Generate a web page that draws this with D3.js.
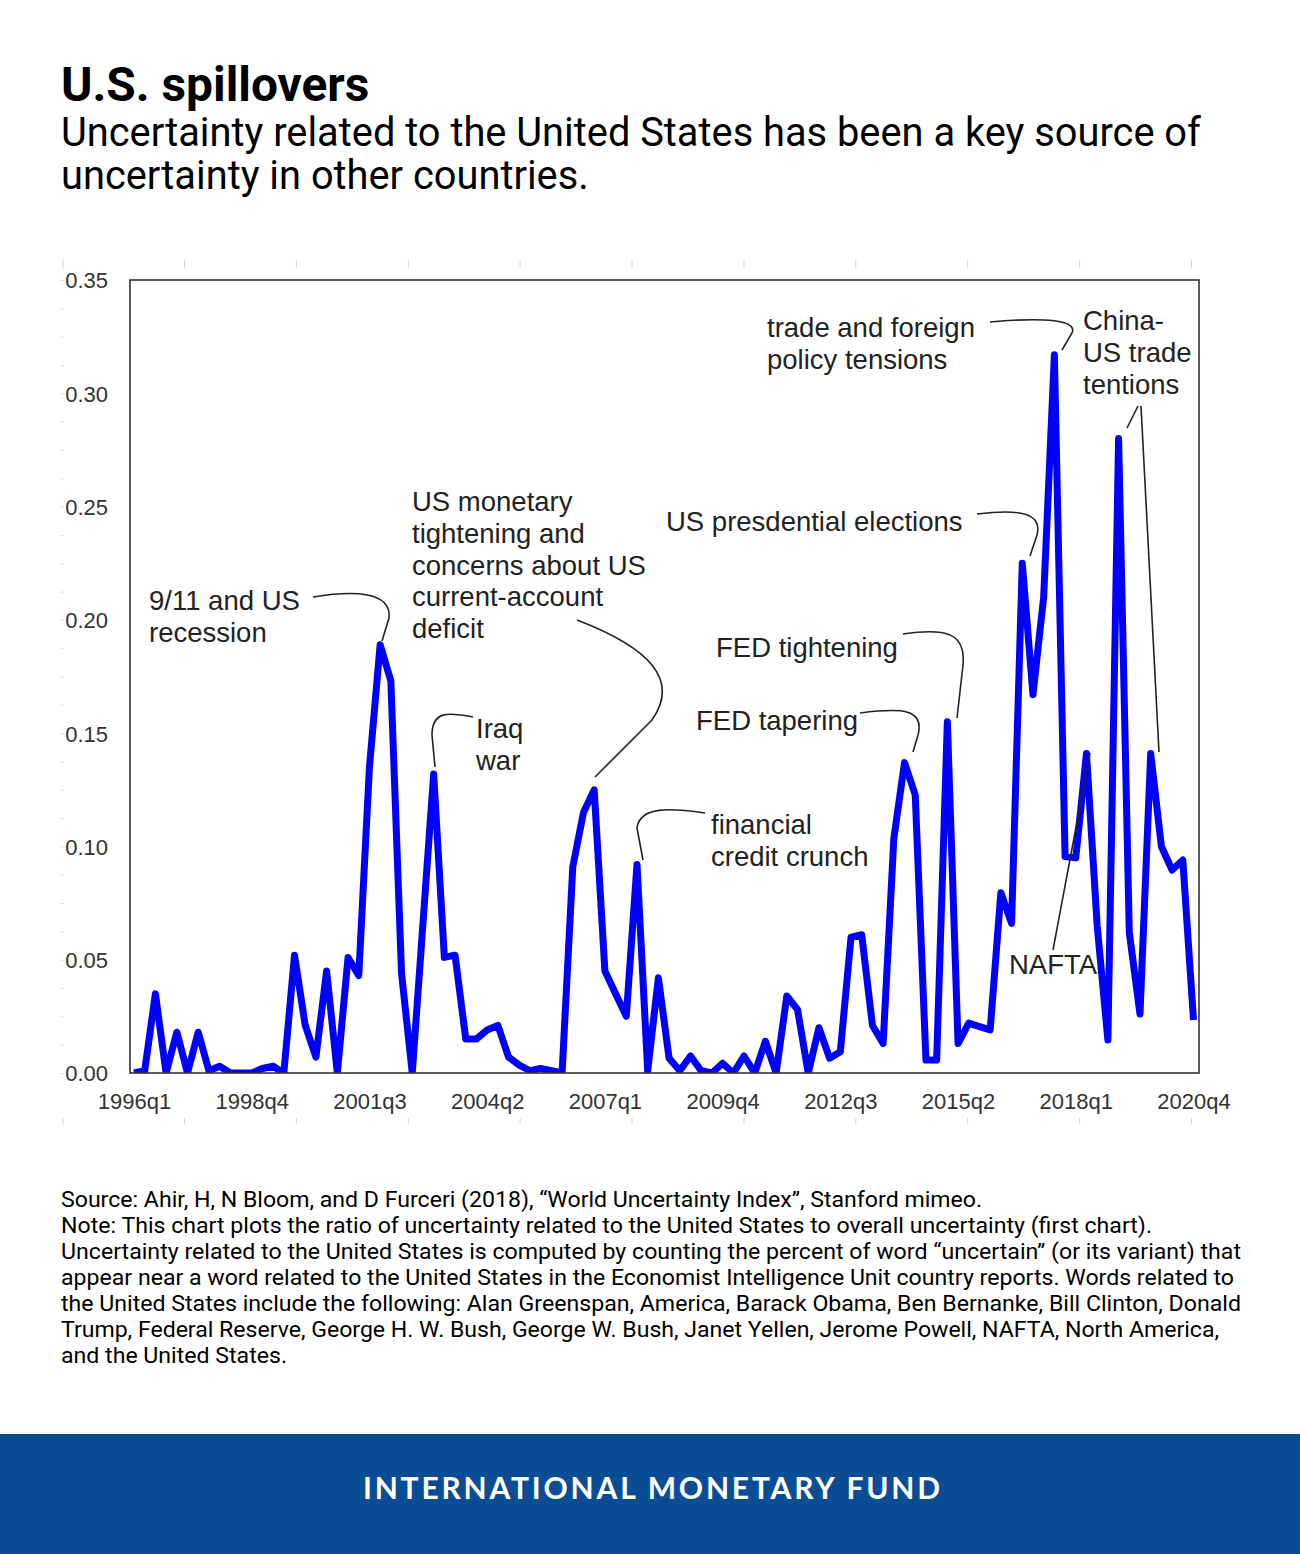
<!DOCTYPE html>
<html>
<head>
<meta charset="utf-8">
<script src="https://cdn.jsdelivr.net/npm/d3@7"></script>
<style>
  body { margin: 0; background: #fff; }
  svg { display: block; }
</style>
</head>
<body>
<div id="figure"></div>
<script>
// ratio of US-related uncertainty to overall uncertainty, 1996q1 .. 2020q4
const startYear = 1996;
const usShare = [
  0.000, 0.001, 0.035, 0.000, 0.018, 0.000, 0.018, 0.001, 0.003, 0.000,
  0.000, 0.000, 0.002, 0.003, 0.000, 0.052, 0.021, 0.007, 0.045, 0.000,
  0.051, 0.043, 0.135, 0.189, 0.173, 0.044, 0.000, 0.066, 0.132, 0.051,
  0.052, 0.015, 0.015, 0.019, 0.021, 0.007, 0.0035, 0.001, 0.002, 0.001,
  0.000, 0.091, 0.115, 0.125, 0.045, 0.035, 0.025, 0.092, 0.001, 0.042,
  0.0065, 0.001, 0.0075, 0.001, 0.000, 0.0043, 0.000, 0.0075, 0.000, 0.014,
  0.000, 0.034, 0.028, 0.000, 0.020, 0.0065, 0.0094, 0.060, 0.061, 0.021,
  0.013, 0.1035, 0.137, 0.1227, 0.0057, 0.0057, 0.155, 0.013, 0.022, 0.0205,
  0.019, 0.0796, 0.066, 0.225, 0.167, 0.210, 0.317, 0.0955, 0.095, 0.141,
  0.065, 0.0146, 0.280, 0.062, 0.026, 0.141, 0.100, 0.0896, 0.094, 0.0234
];
const xTickLabels = ["1996q1", "1998q4", "2001q3", "2004q2", "2007q1",
                     "2009q4", "2012q3", "2015q2", "2018q1", "2020q4"];
const yTicks = [0, 0.05, 0.10, 0.15, 0.20, 0.25, 0.30, 0.35];

const quarterIndex = lbl => (+lbl.slice(0, 4) - startYear) * 4 + (+lbl.slice(5) - 1);

const titleText = "U.S. spillovers";
const subtitleLines = ["Uncertainty related to the United States has been a key source of",
                       "uncertainty in other countries."];
const noteLines = [
  "Source: Ahir, H, N Bloom, and D Furceri (2018), \u201cWorld Uncertainty Index\u201d, Stanford mimeo.",
  "Note: This chart plots the ratio of uncertainty related to the United States to overall uncertainty (first chart).",
  "Uncertainty related to the United States is computed by counting the percent of word \u201cuncertain\u201d (or its variant) that",
  "appear near a word related to the United States in the Economist Intelligence Unit country reports. Words related to",
  "the United States include the following: Alan Greenspan, America, Barack Obama, Ben Bernanke, Bill Clinton, Donald",
  "Trump, Federal Reserve, George H. W. Bush, George W. Bush, Janet Yellen, Jerome Powell, NAFTA, North America,",
  "and the United States."
];
const noteWidths = [921, 1091, 1180, 1173, 1180, 1158, 226];

const W = 1300, H = 1554;
const frame = { left: 130, right: 1199, top: 280, bottom: 1073 };

const svg = d3.select("#figure").append("svg")
  .attr("width", W).attr("height", H);

svg.append("rect").attr("width", W).attr("height", H).attr("fill", "#fff");

// title block
svg.append("text")
   .attr("x", 61).attr("y", 101)
   .attr("font-family", "Roboto").attr("font-weight", 700).attr("font-size", 47.8)
   .attr("fill", "#000")
   .text(titleText);

svg.selectAll("text.sub").data(subtitleLines).enter().append("text")
   .attr("class", "sub")
   .attr("x", 61).attr("y", (d, i) => 146 + i * 43)
   .attr("font-family", "Roboto").attr("font-size", 39.8)
   .attr("fill", "#000")
   .text(d => d);

// scales
let x_scale = d3.scaleLinear().domain([0, usShare.length - 1]).range([134, 1193.5]);
let y_scale = d3.scaleLinear().domain([0, 0.35]).range([frame.bottom, frame.top]);

// faint leftover ticks of the original graph
const ghostTicks = [0, 1, 2, 3, 4, 5, 6, 7, 8, 9, 10];
let ghost = d3.scaleLinear().domain([1, 10]).range([184, 1191]);
const ghostPos = d => d === 0 ? 63 : ghost(d);
[[268, 8, d3.axisTop], [1118, 6, d3.axisBottom]].forEach(([ty, len, axisFn]) => {
  svg.append("g")
     .attr("transform", "translate(0," + ty + ")")
     .call(axisFn(ghost).tickValues(ghostTicks.slice(1)).tickSize(len).tickFormat(""))
     .call(g => g.select(".domain").remove())
     .call(g => g.selectAll("line").attr("stroke", "#d6d6d6"));
  svg.append("line")
     .attr("x1", ghostPos(0)).attr("x2", ghostPos(0))
     .attr("y1", ty).attr("y2", axisFn === d3.axisTop ? ty - len : ty + len)
     .attr("stroke", "#d6d6d6");
});
svg.append("g")
   .attr("transform", "translate(64,0)")
   .call(d3.axisLeft(y_scale).tickValues(d3.range(0, 0.3501, 0.0125)).tickSize(3).tickFormat(""))
   .call(g => g.select(".domain").remove())
   .call(g => g.selectAll("line").attr("stroke", "#dcdcdc"));

// y labels
svg.append("g")
   .attr("transform", "translate(108,0)")
   .call(d3.axisLeft(y_scale).tickValues(yTicks).tickSize(0).tickPadding(0).tickFormat(d3.format(".2f")))
   .call(g => g.select(".domain").remove())
   .call(g => g.selectAll("text")
       .attr("font-family", "Liberation Sans, Arial, sans-serif")
       .attr("font-size", 22).attr("fill", "#333").attr("dy", "0.36em"));

// x labels
svg.append("g")
   .attr("transform", "translate(0,1090)")
   .call(d3.axisBottom(x_scale).tickValues(xTickLabels.map(quarterIndex)).tickSize(0).tickPadding(0)
           .tickFormat((d, i) => xTickLabels[i]))
   .call(g => g.select(".domain").remove())
   .call(g => g.selectAll("text")
       .attr("font-family", "Liberation Sans, Arial, sans-serif")
       .attr("font-size", 22).attr("fill", "#333").attr("dy", "0.85em"));

// plot area
svg.append("clipPath").attr("id", "plotclip")
   .append("rect")
   .attr("x", frame.left).attr("y", frame.top)
   .attr("width", frame.right - frame.left).attr("height", frame.bottom - frame.top);

let line = d3.line()
  .x((d, i) => x_scale(i))
  .y(d => y_scale(d));

svg.append("path")
   .datum(usShare)
   .attr("clip-path", "url(#plotclip)")
   .attr("d", line)
   .attr("fill", "none")
   .attr("stroke", "#0000ff")
   .attr("stroke-width", 7)
   .attr("stroke-linejoin", "round");

svg.append("rect")
   .attr("x", frame.left).attr("y", frame.top)
   .attr("width", frame.right - frame.left).attr("height", frame.bottom - frame.top)
   .attr("fill", "none").attr("stroke", "#333").attr("stroke-width", 1.6);

// annotations
const annotations = [
  { lines: ["9/11 and US", "recession"], x: 149, y: 610,
    path: "M313,597 C350,591 392,590 389,618 L382,641" },
  { lines: ["Iraq", "war"], x: 476, y: 738,
    path: "M473,717 C448,712 432,711 432,735 L435,767" },
  { lines: ["US monetary", "tightening and", "concerns about US", "current-account", "deficit"], x: 412, y: 511,
    path: "M577,620 C650,648 680,680 652,720 L595,777" },
  { lines: ["financial", "credit crunch"], x: 711, y: 834,
    path: "M705,813 C670,808 640,806 637,828 L643,860" },
  { lines: ["FED tapering"], x: 696, y: 730,
    path: "M860,713 C900,708 925,708 918,735 L913,752" },
  { lines: ["FED tightening"], x: 716, y: 657,
    path: "M903,634 C945,628 966,632 963,665 L957,718" },
  { lines: ["US presdential elections"], x: 666, y: 531,
    path: "M977,514 C1025,508 1042,515 1037,535 L1030,556" },
  { lines: ["trade and foreign", "policy tensions"], x: 767, y: 337,
    path: "M990,322 C1045,317 1078,320 1072,333 L1062,350" },
  { lines: ["China-", "US trade", "tentions"], x: 1083, y: 330,
    path: "M1138,406 L1127,428 M1141,406 L1159,752" },
  { lines: ["NAFTA"], x: 1009, y: 974,
    path: "M1053,950 L1090,753" }
];

let ann = svg.append("g").attr("class", "annotations");
annotations.forEach(a => {
  ann.append("path")
     .attr("d", a.path)
     .attr("fill", "none").attr("stroke", "#222").attr("stroke-width", 1.6);
  ann.selectAll(null).data(a.lines).enter().append("text")
     .attr("x", a.x).attr("y", (d, i) => a.y + i * 31.8)
     .attr("font-family", "Liberation Sans, Arial, sans-serif")
     .attr("font-size", 27.5).attr("fill", "#222")
     .text(d => d);
});

// source and note
svg.selectAll("text.note").data(noteLines).enter().append("text")
   .attr("class", "note")
   .attr("x", 61).attr("y", (d, i) => 1207 + i * 26)
   .attr("font-family", "Roboto").attr("font-size", 22)
   .attr("fill", "#000")
   .attr("textLength", (d, i) => noteWidths[i])
   .attr("lengthAdjust", "spacingAndGlyphs")
   .text(d => d);

// footer band
svg.append("rect")
   .attr("x", 0).attr("y", 1434).attr("width", W).attr("height", 120)
   .attr("fill", "#0b4d94");
svg.append("text")
   .attr("x", 363).attr("y", 1499)
   .attr("font-family", "Lato").attr("font-weight", 700).attr("font-size", 30)
   .attr("fill", "#fff")
   .attr("textLength", 577).attr("lengthAdjust", "spacing")
   .text("INTERNATIONAL MONETARY FUND");
</script>
</body>
</html>
